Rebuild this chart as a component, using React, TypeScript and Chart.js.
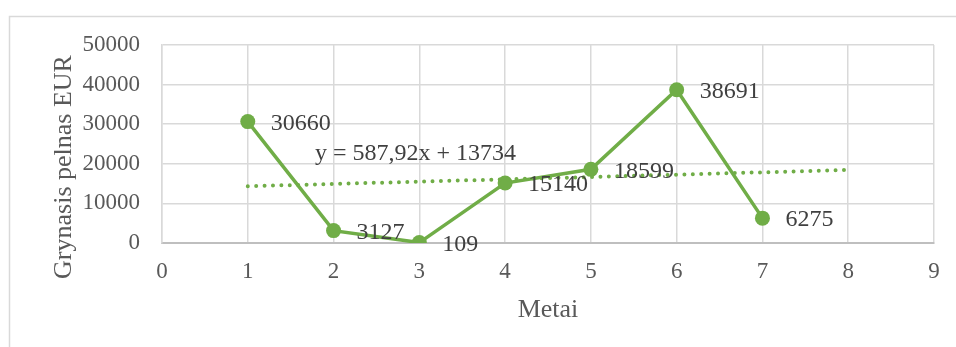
import React, { useEffect, useRef } from "react";
import { Chart, registerables } from "chart.js";

Chart.register(...registerables);

const years = [1, 2, 3, 4, 5, 6, 7];
const profit = [30660, 3127, 109, 15140, 18599, 38691, 6275];
const trendX = [1, 8];
const trendY = [14322, 18437];
const xTitle = "Metai";
const yTitle = "Grynasis pelnas EUR";
const equation = "y = 587,92x + 13734";

const FONT = "'Liberation Serif', 'Times New Roman', serif";
const GREEN = "#70AD47";

const decorPlugin = {
  id: "decor",
  beforeDraw(chart: any) {
    const { ctx, width, height } = chart;
    ctx.save();
    ctx.fillStyle = "#ffffff";
    ctx.fillRect(0, 0, width, height);
    ctx.strokeStyle = "#d9d9d9";
    ctx.lineWidth = 1.5;
    ctx.beginPath();
    ctx.moveTo(9.5, height);
    ctx.lineTo(9.5, 16.5);
    ctx.lineTo(width, 16.5);
    ctx.stroke();
    ctx.restore();
  },
  afterDraw(chart: any) {
    const { ctx } = chart;
    ctx.save();
    ctx.fillStyle = "#595959";
    ctx.font = `26px ${FONT}`;
    ctx.translate(71, 167);
    ctx.rotate(-Math.PI / 2);
    ctx.textAlign = "center";
    ctx.textBaseline = "alphabetic";
    ctx.fillText(yTitle, 0, 0);
    ctx.restore();

    ctx.save();
    ctx.fillStyle = "#404040";
    ctx.font = `24px ${FONT}`;
    ctx.textAlign = "left";
    ctx.textBaseline = "middle";
    const meta = chart.getDatasetMeta(0);
    meta.data.forEach((pt: any, i: number) => {
      ctx.fillText(String(profit[i]), pt.x + 23, pt.y + 2);
    });
    ctx.textBaseline = "alphabetic";
    ctx.fillText(equation, 315, 160);
    ctx.restore();
  },
};

export default function App() {
  const ref = useRef<HTMLCanvasElement | null>(null);
  useEffect(() => {
    if (!ref.current) return;
    const chart = new Chart(ref.current, {
      type: "scatter",
      data: {
        datasets: [
          {
            data: years.map((x, i) => ({ x, y: profit[i] })),
            showLine: true,
            borderColor: GREEN,
            backgroundColor: GREEN,
            borderWidth: 3.5,
            pointRadius: 7.5,
            pointHoverRadius: 7.5,
            pointBorderWidth: 0,
            order: 1,
          },
          {
            data: trendX.map((x, i) => ({ x, y: trendY[i] })),
            showLine: true,
            borderColor: GREEN,
            borderWidth: 4,
            borderDash: [0, 8.4],
            borderCapStyle: "round",
            pointRadius: 0,
            order: 0,
          },
        ],
      },
      options: {
        responsive: false,
        animation: false,
        layout: { padding: { top: 45, right: 22, left: 0, bottom: 0 } },
        plugins: { legend: { display: false }, tooltip: { enabled: false } },
        scales: {
          x: {
            type: "linear",
            min: 0,
            max: 9,
            ticks: {
              stepSize: 1,
              autoSkip: false,
              padding: 15,
              color: "#595959",
              font: { family: FONT, size: 23 },
              callback: (v: any) => String(v),
            },
            grid: { color: "#d9d9d9", lineWidth: 1.5, drawTicks: false },
            border: { color: "#bfbfbf", width: 2 },
            title: {
              display: true,
              text: xTitle,
              color: "#595959",
              font: { family: FONT, size: 26 },
              padding: { top: 0, bottom: 21 },
            },
            afterFit: (s: any) => {
              s.height = 104;
            },
          },
          y: {
            min: 0,
            max: 50000,
            ticks: {
              stepSize: 10000,
              padding: 22,
              color: "#595959",
              font: { family: FONT, size: 23 },
              callback: (v: any) => String(v),
            },
            grid: { color: "#d9d9d9", lineWidth: 1.5, drawTicks: false },
            border: { color: "#d9d9d9", width: 1.5 },
            afterFit: (s: any) => {
              s.width = 162;
            },
          },
        },
      },
      plugins: [decorPlugin],
    } as any);
    return () => chart.destroy();
  }, []);
  return (
    <div style={{ position: "absolute", left: 0, top: 0, width: 956, height: 347 }}>
      <canvas ref={ref} width={956} height={347} style={{ display: "block" }} />
    </div>
  );
}
